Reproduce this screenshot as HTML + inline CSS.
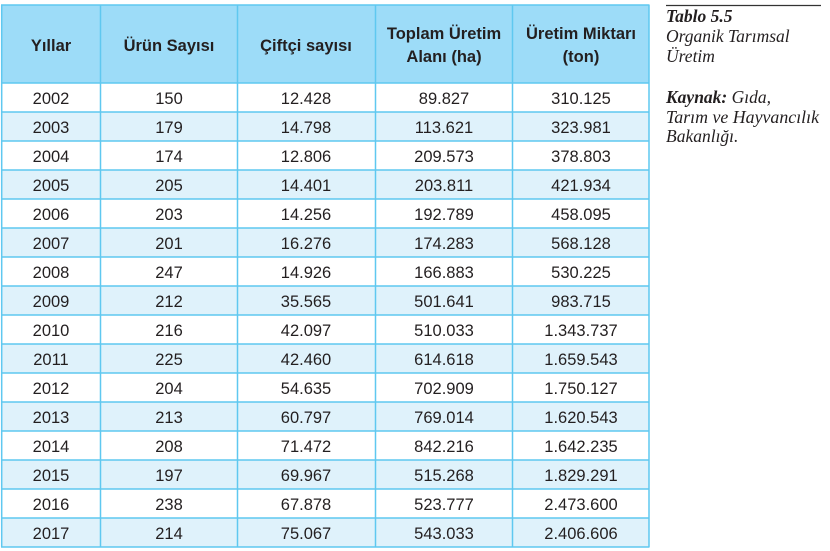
<!DOCTYPE html>
<html>
<head>
<meta charset="utf-8">
<style>
  html, body { margin:0; padding:0; background:#ffffff; }
  body { width:830px; height:551px; overflow:hidden; }
  svg { display:block; }
  .h { font-family:"Liberation Sans", sans-serif; font-weight:bold; font-size:16.5px; fill:#231f20; text-anchor:middle; }
  .b { font-family:"Liberation Sans", sans-serif; font-size:16.5px; fill:#231f20; text-anchor:middle; }
  .s { font-family:"Liberation Serif", serif; font-style:italic; font-size:17.5px; fill:#231f20; }
</style>
</head>
<body>
<svg width="830" height="551" viewBox="0 0 830 551" xmlns="http://www.w3.org/2000/svg">
  <!-- header background -->
  <rect x="1.5" y="5" width="647.5" height="78" fill="#9ddcf8"/>
  <!-- alternating rows -->
  <g fill="#dff2fb">
    <rect x="1.5" y="112" width="647.5" height="29"/>
    <rect x="1.5" y="170" width="647.5" height="29"/>
    <rect x="1.5" y="228" width="647.5" height="29"/>
    <rect x="1.5" y="286" width="647.5" height="29"/>
    <rect x="1.5" y="344" width="647.5" height="29"/>
    <rect x="1.5" y="402" width="647.5" height="29"/>
    <rect x="1.5" y="460" width="647.5" height="29"/>
    <rect x="1.5" y="518" width="647.5" height="29"/>
  </g>
  <!-- grid lines -->
  <g stroke="#5fc8f0" stroke-width="1.5" fill="none">
    <line x1="1" y1="5" x2="649.5" y2="5"/>
    <line x1="1" y1="83" x2="649.5" y2="83"/>
    <line x1="1" y1="112" x2="649.5" y2="112"/>
    <line x1="1" y1="141" x2="649.5" y2="141"/>
    <line x1="1" y1="170" x2="649.5" y2="170"/>
    <line x1="1" y1="199" x2="649.5" y2="199"/>
    <line x1="1" y1="228" x2="649.5" y2="228"/>
    <line x1="1" y1="257" x2="649.5" y2="257"/>
    <line x1="1" y1="286" x2="649.5" y2="286"/>
    <line x1="1" y1="315" x2="649.5" y2="315"/>
    <line x1="1" y1="344" x2="649.5" y2="344"/>
    <line x1="1" y1="373" x2="649.5" y2="373"/>
    <line x1="1" y1="402" x2="649.5" y2="402"/>
    <line x1="1" y1="431" x2="649.5" y2="431"/>
    <line x1="1" y1="460" x2="649.5" y2="460"/>
    <line x1="1" y1="489" x2="649.5" y2="489"/>
    <line x1="1" y1="518" x2="649.5" y2="518"/>
    <line x1="1" y1="547" x2="649.5" y2="547"/>
    <line x1="1.7" y1="5" x2="1.7" y2="547"/>
    <line x1="100.5" y1="5" x2="100.5" y2="547"/>
    <line x1="237.5" y1="5" x2="237.5" y2="547"/>
    <line x1="375.5" y1="5" x2="375.5" y2="547"/>
    <line x1="512.5" y1="5" x2="512.5" y2="547"/>
    <line x1="649" y1="5" x2="649" y2="547"/>
  </g>

  <!-- header text -->
  <text class="h" x="51" y="51">Yıllar</text>
  <text class="h" x="169" y="51">Ürün Sayısı</text>
  <text class="h" x="306" y="51">Çiftçi sayısı</text>
  <text class="h" x="444" y="39">Toplam Üretim</text>
  <text class="h" x="444" y="62">Alanı (ha)</text>
  <text class="h" x="581" y="39">Üretim Miktarı</text>
  <text class="h" x="581" y="62">(ton)</text>

  <!-- body text -->
  <g class="b">
    <text x="51" y="104">2002</text><text x="169" y="104">150</text><text x="306" y="104">12.428</text><text x="444" y="104">89.827</text><text x="581" y="104">310.125</text>
    <text x="51" y="133">2003</text><text x="169" y="133">179</text><text x="306" y="133">14.798</text><text x="444" y="133">113.621</text><text x="581" y="133">323.981</text>
    <text x="51" y="162">2004</text><text x="169" y="162">174</text><text x="306" y="162">12.806</text><text x="444" y="162">209.573</text><text x="581" y="162">378.803</text>
    <text x="51" y="191">2005</text><text x="169" y="191">205</text><text x="306" y="191">14.401</text><text x="444" y="191">203.811</text><text x="581" y="191">421.934</text>
    <text x="51" y="220">2006</text><text x="169" y="220">203</text><text x="306" y="220">14.256</text><text x="444" y="220">192.789</text><text x="581" y="220">458.095</text>
    <text x="51" y="249">2007</text><text x="169" y="249">201</text><text x="306" y="249">16.276</text><text x="444" y="249">174.283</text><text x="581" y="249">568.128</text>
    <text x="51" y="278">2008</text><text x="169" y="278">247</text><text x="306" y="278">14.926</text><text x="444" y="278">166.883</text><text x="581" y="278">530.225</text>
    <text x="51" y="307">2009</text><text x="169" y="307">212</text><text x="306" y="307">35.565</text><text x="444" y="307">501.641</text><text x="581" y="307">983.715</text>
    <text x="51" y="336">2010</text><text x="169" y="336">216</text><text x="306" y="336">42.097</text><text x="444" y="336">510.033</text><text x="581" y="336">1.343.737</text>
    <text x="51" y="365">2011</text><text x="169" y="365">225</text><text x="306" y="365">42.460</text><text x="444" y="365">614.618</text><text x="581" y="365">1.659.543</text>
    <text x="51" y="394">2012</text><text x="169" y="394">204</text><text x="306" y="394">54.635</text><text x="444" y="394">702.909</text><text x="581" y="394">1.750.127</text>
    <text x="51" y="423">2013</text><text x="169" y="423">213</text><text x="306" y="423">60.797</text><text x="444" y="423">769.014</text><text x="581" y="423">1.620.543</text>
    <text x="51" y="452">2014</text><text x="169" y="452">208</text><text x="306" y="452">71.472</text><text x="444" y="452">842.216</text><text x="581" y="452">1.642.235</text>
    <text x="51" y="481">2015</text><text x="169" y="481">197</text><text x="306" y="481">69.967</text><text x="444" y="481">515.268</text><text x="581" y="481">1.829.291</text>
    <text x="51" y="510">2016</text><text x="169" y="510">238</text><text x="306" y="510">67.878</text><text x="444" y="510">523.777</text><text x="581" y="510">2.473.600</text>
    <text x="51" y="539">2017</text><text x="169" y="539">214</text><text x="306" y="539">75.067</text><text x="444" y="539">543.033</text><text x="581" y="539">2.406.606</text>
  </g>

  <!-- side caption -->
  <line x1="666" y1="5.5" x2="821" y2="5.5" stroke="#333333" stroke-width="1.2"/>
  <text class="s" x="666" y="22" font-weight="bold">Tablo 5.5</text>
  <text class="s" x="666" y="42">Organik Tarımsal</text>
  <text class="s" x="666" y="62">Üretim</text>
  <text class="s" x="666" y="103"><tspan font-weight="bold">Kaynak:</tspan> Gıda,</text>
  <text class="s" x="666" y="123" textLength="153" lengthAdjust="spacingAndGlyphs">Tarım ve Hayvancılık</text>
  <text class="s" x="666" y="142">Bakanlığı.</text>
</svg>
</body>
</html>
